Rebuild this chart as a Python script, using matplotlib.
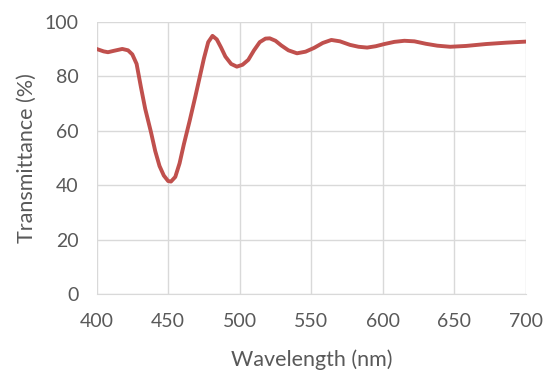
import matplotlib
matplotlib.use("Agg")
import matplotlib.pyplot as plt

wavelength = [400, 405, 408, 412, 418, 422, 425, 428, 431, 434, 438, 441, 444, 447, 450,
              452, 455, 458, 461, 465, 469, 472, 475, 478, 481, 484, 487, 490, 494, 498,
              502, 506, 510, 514, 518, 521, 525, 529, 534, 540, 546, 552, 558, 564, 570,
              577, 583, 589, 595, 601, 608, 615, 622, 630, 638, 647, 658, 672, 686, 700]
transmittance = [90.0, 89.1, 88.8, 89.3, 90.0, 89.5, 88.0, 84.5, 76.0, 68.0, 59.5, 52.5, 47.0, 43.5, 41.5,
                 41.3, 43.0, 48.0, 55.0, 63.5, 72.5, 79.5, 86.5, 92.5, 94.8, 93.5, 90.5, 87.2, 84.5, 83.5,
                 84.2, 86.0, 89.5, 92.5, 93.8, 93.9, 93.0, 91.3, 89.5, 88.4, 89.0, 90.4, 92.2, 93.3, 92.8,
                 91.5, 90.8, 90.5, 91.0, 91.8, 92.6, 93.0, 92.8, 91.9, 91.2, 90.8, 91.1, 91.8, 92.3, 92.7]
x_ticks = [400, 450, 500, 550, 600, 650, 700]
y_ticks = [0, 20, 40, 60, 80, 100]

plt.rcParams['font.family'] = ['Lato', 'DejaVu Sans']
fig = plt.figure(figsize=(5.5, 3.81), dpi=100)
ax = fig.add_axes([0.1755, 0.2283, 0.781, 0.7147])
ax.plot(wavelength, transmittance, color='#C0504D', lw=2.8, solid_capstyle='round',
        solid_joinstyle='round')
ax.set_xlim(400, 700)
ax.set_ylim(0, 100)
ax.set_xticks(x_ticks)
ax.set_yticks(y_ticks)
ax.grid(True, color='#D9D9D9', lw=1.0)
ax.set_axisbelow(True)
for s in ['top', 'right', 'left']:
    ax.spines[s].set_visible(False)
ax.spines['bottom'].set_color('#D9D9D9')
ax.tick_params(length=0, labelsize=14, colors='#595959')
ax.tick_params(axis='x', pad=14)
ax.tick_params(axis='y', pad=13)
ax.set_xlabel('Wavelength (nm)', fontsize=15.5, color='#595959')
ax.set_ylabel('Transmittance (%)', fontsize=15.5, color='#595959')
ax.xaxis.set_label_coords(0.5, -0.205)
ax.yaxis.set_label_coords(-0.138, 0.5)
fig.savefig('out.png', dpi=100)
